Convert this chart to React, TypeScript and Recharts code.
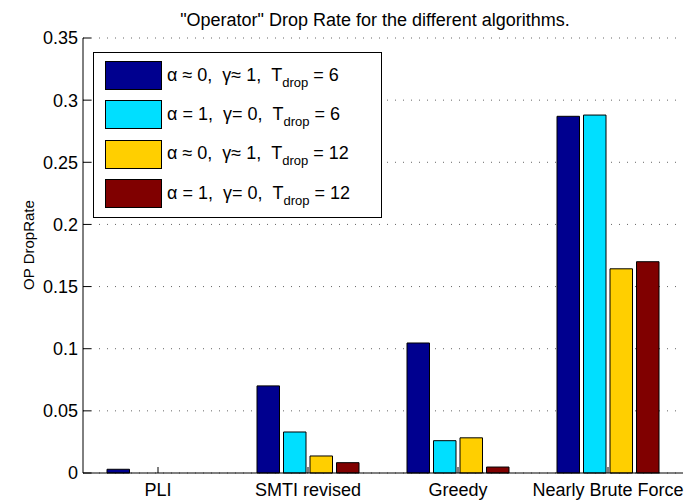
import React from 'react';
import { BarChart, Bar, XAxis, YAxis, CartesianGrid, Legend } from 'recharts';

const categories = ['PLI', 'SMTI revised', 'Greedy', 'Nearly Brute Force'];
const seriesA = [0.003, 0.0701, 0.1046, 0.287]; // α≈0, γ≈1, Tdrop=6
const seriesB = [0, 0.033, 0.026, 0.288]; // α=1, γ=0, Tdrop=6
const seriesC = [0, 0.0137, 0.0283, 0.1643]; // α≈0, γ≈1, Tdrop=12
const seriesD = [0, 0.0083, 0.0048, 0.17]; // α=1, γ=0, Tdrop=12
const yTicks = [0, 0.05, 0.1, 0.15, 0.2, 0.25, 0.3, 0.35];

const alphaLabels = ['α ≈ 0', 'α = 1', 'α ≈ 0', 'α = 1'];
const gammaLabels = ['γ≈ 1', 'γ= 0', 'γ≈ 1', 'γ= 0'];
const tdropValues = [6, 6, 12, 12];
const seriesKeys = ['a', 'b', 'c', 'd'];
const seriesColors = ['#00008F', '#00DFFF', '#FFCF00', '#800000'];

const title = '"Operator" Drop Rate for the different algorithms.';
const yLabel = 'OP DropRate';

const data = categories.map((cat, i) => ({
  cat,
  a: seriesA[i],
  b: seriesB[i],
  c: seriesC[i],
  d: seriesD[i],
}));

const FONT = '"Liberation Sans", Arial, Helvetica, sans-serif';

const LegendBox = () => (
  <div
    style={{
      boxSizing: 'border-box',
      width: 289,
      height: 166,
      border: '1px solid #000',
      background: '#fff',
      paddingTop: 3,
      fontFamily: FONT,
    }}
  >
    {seriesKeys.map((k, i) => (
      <div key={k} style={{ display: 'flex', alignItems: 'center', height: 39.3 }}>
        <div
          style={{
            boxSizing: 'border-box',
            width: 57,
            height: 29,
            marginLeft: 11,
            background: seriesColors[i],
            border: '1px solid #000',
          }}
        />
        <div style={{ marginLeft: 5, fontSize: 18, whiteSpace: 'pre', color: '#000', lineHeight: '20px' }}>
          {alphaLabels[i]},  {gammaLabels[i]},  T
          <span style={{ fontSize: 13, position: 'relative', top: 6 }}>drop</span>
          {' = ' + tdropValues[i]}
        </div>
      </div>
    ))}
  </div>
);

export default function App() {
  return (
    <div style={{ position: 'absolute', left: 0, top: 0, width: 692, height: 504, background: '#fff' }}>
      <BarChart
        width={692}
        height={504}
        data={data}
        margin={{ top: 38, right: 9, bottom: 0, left: 0 }}
        barSize={22.5}
        barGap={4}
        style={{ fontFamily: FONT }}
      >
        <CartesianGrid
          vertical={false}
          horizontal
          stroke="#666"
          strokeDasharray="1 7"
          yAxisId="l"
          xAxisId="b"
        />
        <XAxis
          xAxisId="b"
          dataKey="cat"
          orientation="bottom"
          height={31}
          tickSize={-6}
          tickMargin={16}
          axisLine={{ stroke: '#000', strokeWidth: 1 }}
          tickLine={{ stroke: '#000' }}
          tick={{ fill: '#000', fontSize: 18, fontFamily: FONT }}
          interval={0}
        />
        <XAxis
          xAxisId="t"
          dataKey="cat"
          orientation="top"
          height={0}
          tickSize={-6}
          axisLine={{ stroke: '#000', strokeWidth: 1 }}
          tickLine={{ stroke: '#000' }}
          tick={false}
          interval={0}
        />
        <YAxis
          yAxisId="l"
          orientation="left"
          width={83}
          domain={[0, 0.35]}
          ticks={yTicks}
          tickSize={-8}
          tickMargin={13}
          interval={0}
          axisLine={{ stroke: '#000', strokeWidth: 1 }}
          tickLine={{ stroke: '#000' }}
          tick={{ fill: '#000', fontSize: 18, fontFamily: FONT }}
          tickFormatter={(v: number) => String(v)}
        />
        <YAxis
          yAxisId="r"
          orientation="right"
          width={0}
          domain={[0, 0.35]}
          ticks={yTicks}
          tickSize={-8}
          interval={0}
          axisLine={{ stroke: '#000', strokeWidth: 1 }}
          tickLine={{ stroke: '#000' }}
          tick={false}
        />
        <Legend
          layout="vertical"
          align="center"
          verticalAlign="middle"
          wrapperStyle={{ left: 93, top: 52, width: 289, height: 166 }}
          content={() => <LegendBox />}
        />
        {seriesKeys.map((k, i) => (
          <Bar
            key={k}
            dataKey={k}
            xAxisId="b"
            yAxisId="l"
            fill={seriesColors[i]}
            stroke="#000"
            strokeWidth={1}
            isAnimationActive={false}
          />
        ))}
      </BarChart>
      <div
        style={{
          position: 'absolute',
          left: 75,
          width: 600,
          top: 10,
          textAlign: 'center',
          fontFamily: FONT,
          fontSize: 18,
          lineHeight: '20px',
          color: '#000',
          whiteSpace: 'pre',
        }}
      >
        {title}
      </div>
      <div
        style={{
          position: 'absolute',
          left: 29,
          top: 245,
          transform: 'translate(-50%, -50%) rotate(-90deg)',
          fontFamily: FONT,
          fontSize: 15,
          lineHeight: '18px',
          color: '#000',
          whiteSpace: 'pre',
        }}
      >
        {yLabel}
      </div>
    </div>
  );
}
